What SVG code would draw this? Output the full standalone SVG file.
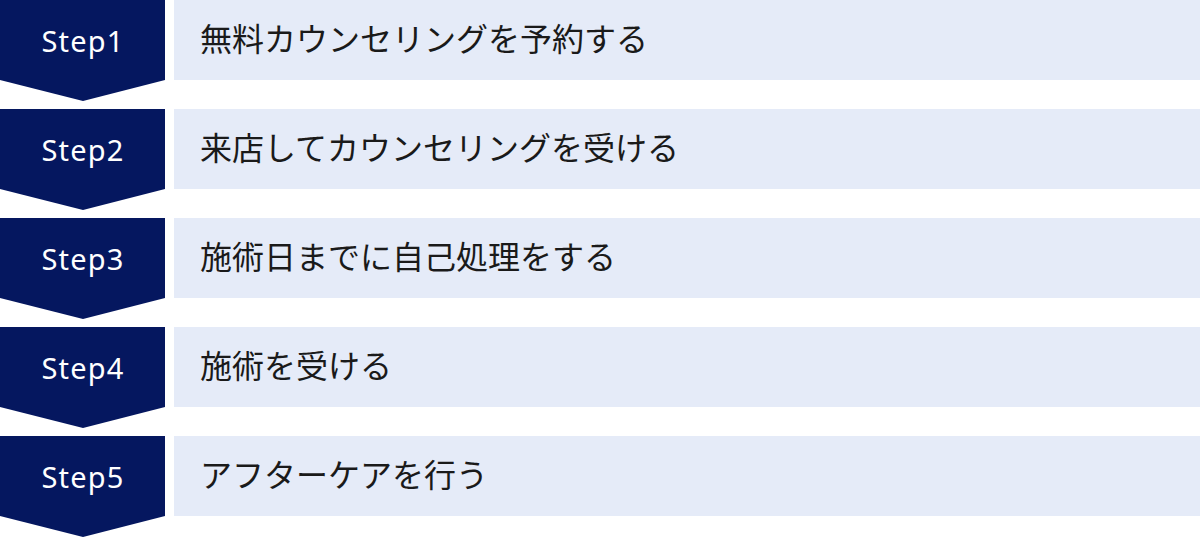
<svg xmlns="http://www.w3.org/2000/svg" width="1200" height="538" viewBox="0 0 1200 538">
<defs>
<style>
.chev{fill:#05175f;}
.box{fill:#e5ebf8;}
.step{font-family:"Noto Sans","DejaVu Sans",sans-serif;font-size:29px;fill:#ffffff;text-anchor:middle;letter-spacing:1.2px;}
.lbl{font-family:"Noto Sans CJK JP","Noto Sans CJK SC",sans-serif;font-size:32px;fill:#1a1a1a;}
</style>
<polygon id="chevShape" points="0,0 165,0 165,80 83,101 0,80"/>
</defs>
<rect width="1200" height="538" fill="#ffffff"/>
<g id="connectors"></g>
<g id="step1">
<use href="#chevShape" class="chev"/>
<rect class="box" x="174" y="0" width="1026" height="80"/>
<text class="step" x="83" y="52">Step1</text>
<text class="lbl" x="200" y="51">無料カウンセリングを予約する</text>
</g>
<g id="step2" transform="translate(0,109)">
<use href="#chevShape" class="chev"/>
<rect class="box" x="174" y="0" width="1026" height="80"/>
<text class="step" x="83" y="52">Step2</text>
<text class="lbl" x="200" y="51">来店してカウンセリングを受ける</text>
</g>
<g id="step3" transform="translate(0,218)">
<use href="#chevShape" class="chev"/>
<rect class="box" x="174" y="0" width="1026" height="80"/>
<text class="step" x="83" y="52">Step3</text>
<text class="lbl" x="200" y="51">施術日までに自己処理をする</text>
</g>
<g id="step4" transform="translate(0,327)">
<use href="#chevShape" class="chev"/>
<rect class="box" x="174" y="0" width="1026" height="80"/>
<text class="step" x="83" y="52">Step4</text>
<text class="lbl" x="200" y="51">施術を受ける</text>
</g>
<g id="step5" transform="translate(0,436)">
<use href="#chevShape" class="chev"/>
<rect class="box" x="174" y="0" width="1026" height="80"/>
<text class="step" x="83" y="52">Step5</text>
<text class="lbl" x="200" y="51">アフターケアを行う</text>
</g>
</svg>
